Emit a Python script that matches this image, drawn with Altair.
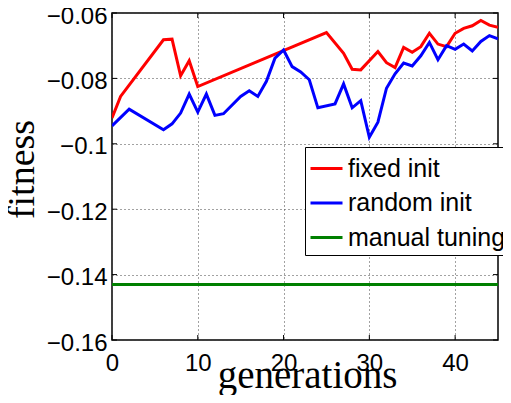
import altair as alt
import pandas as pd

series = ["fixed init", "random init", "manual tuning"]
colors = ["#ff0000", "#0000ff", "#008000"]

gen_fixed = [0, 1, 6, 7, 8, 9, 10, 25, 27, 28, 29, 31, 32, 33, 34, 35, 36, 37, 38, 39, 40, 41, 42, 43, 44, 45]
fit_fixed = [-0.0921, -0.0855, -0.0682, -0.0680, -0.0792, -0.0746, -0.0825, -0.0660, -0.0723, -0.0772,
             -0.0774, -0.0718, -0.0752, -0.0767, -0.0705, -0.0720, -0.0703, -0.0662, -0.0695, -0.0703,
             -0.0662, -0.0647, -0.0639, -0.0623, -0.0637, -0.0644]

gen_random = [0, 2, 6, 7, 8, 9, 10, 11, 12, 13, 15, 16, 17, 18, 19, 20, 21, 22, 23, 24, 26, 27, 28, 29,
              30, 31, 32, 33, 34, 35, 36, 37, 38, 39, 40, 41, 42, 43, 44, 45]
fit_random = [-0.0945, -0.0894, -0.0957, -0.0939, -0.0906, -0.0848, -0.0903, -0.0848, -0.0913, -0.0908,
              -0.0855, -0.0838, -0.0855, -0.0809, -0.0738, -0.0713, -0.0764, -0.0780, -0.0804, -0.0890,
              -0.0878, -0.0817, -0.0890, -0.0868, -0.0980, -0.0934, -0.0830, -0.0786, -0.0753, -0.0762,
              -0.0731, -0.0690, -0.0743, -0.0700, -0.0711, -0.0695, -0.0716, -0.0687, -0.0669, -0.0679]

gen_manual = [0, 45]
fit_manual = [-0.143, -0.143]

x_ticks = [0, 10, 20, 30, 40]
y_ticks = [-0.16, -0.14, -0.12, -0.1, -0.08, -0.06]

W, H = 386, 327

rows = []
for name, xs, ys in zip(series, [gen_fixed, gen_random, gen_manual], [fit_fixed, fit_random, fit_manual]):
    for gx, fy in zip(xs, ys):
        rows.append({"series": name, "generations": gx, "fitness": fy})
df = pd.DataFrame(rows)

x_scale = alt.Scale(domain=[0, 45], nice=False)
y_scale = alt.Scale(domain=[-0.16, -0.06], nice=False, zero=False)

lines = alt.Chart(df).mark_line(strokeWidth=3, clip=True).encode(
    x=alt.X("generations:Q", scale=x_scale,
            axis=alt.Axis(values=x_ticks, title="generations", format="d",
                          labelFont="Liberation Sans", labelFontSize=24, labelColor="black",
                          labelPadding=11, labelBaseline="top", labelFlush=False, labelOverlap=False,
                          ticks=False, domain=False,
                          grid=True, gridDash=[1, 3], gridColor="#444", gridWidth=1,
                          titleFont="Liberation Serif", titleFontSize=39, titleFontWeight="normal",
                          titleColor="black", titleBaseline="alphabetic", titleY=47, titleX=195)),
    y=alt.Y("fitness:Q", scale=y_scale,
            axis=alt.Axis(values=y_ticks, title="fitness", format=".2~f",
                          labelFont="Liberation Sans", labelFontSize=24, labelColor="black",
                          labelPadding=5, labelOffset=3, labelFlush=False, labelOverlap=False,
                          ticks=False, domain=False,
                          grid=True, gridDash=[1, 3], gridColor="#444", gridWidth=1,
                          titleFont="Liberation Serif", titleFontSize=38, titleFontWeight="normal",
                          titleColor="black", titleBaseline="alphabetic", titleX=-79, titleY=156,
                          titleAngle=270)),
    color=alt.Color("series:N",
                    scale=alt.Scale(domain=series, range=colors),
                    legend=alt.Legend(title=None, orient="none", legendX=193, legendY=134,
                                      fillColor="white", strokeColor="black", padding=4,
                                      symbolType="stroke", symbolSize=1024, symbolStrokeWidth=3,
                                      labelFont="Liberation Sans", labelFontSize=25, labelColor="black",
                                      labelOffset=4, labelLimit=400, rowPadding=3.5)),
)

ydf = pd.DataFrame({"fitness": y_ticks})
xdf = pd.DataFrame({"generations": x_ticks})

tick_left = alt.Chart(ydf).mark_rule(color="black", strokeWidth=1).encode(
    y=alt.Y("fitness:Q", scale=y_scale), x=alt.value(0), x2=alt.value(5))
tick_right = alt.Chart(ydf).mark_rule(color="black", strokeWidth=1).encode(
    y=alt.Y("fitness:Q", scale=y_scale), x=alt.value(W - 5), x2=alt.value(W))
tick_bottom = alt.Chart(xdf).mark_rule(color="black", strokeWidth=1).encode(
    x=alt.X("generations:Q", scale=x_scale), y=alt.value(H - 5), y2=alt.value(H))
tick_top = alt.Chart(xdf).mark_rule(color="black", strokeWidth=1).encode(
    x=alt.X("generations:Q", scale=x_scale), y=alt.value(0), y2=alt.value(5))

chart = alt.layer(lines, tick_left, tick_right, tick_bottom, tick_top).properties(
    width=W,
    height=H,
    autosize=alt.AutoSizeParams(type="none"),
    padding={"left": 104, "top": 5, "right": 5, "bottom": 55},
).configure_view(
    stroke="black", strokeWidth=1.5
)

chart.save("out.html", embed_options={"renderer": "svg", "actions": False})
